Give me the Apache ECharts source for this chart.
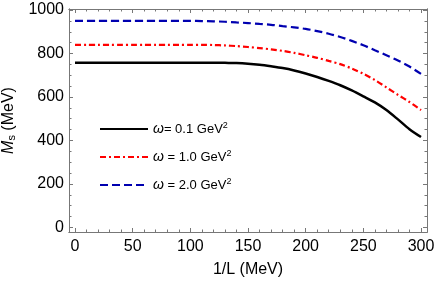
<!DOCTYPE html>
<html>
<head>
<meta charset="utf-8">
<script src="https://cdn.jsdelivr.net/npm/echarts@6/dist/echarts.min.js"></script>
<style>html,body{margin:0;padding:0;background:#fff}#c{width:436px;height:282px}</style>
</head>
<body>
<div id="c"></div>
<script>
var xValues = [0,10,20,30,40,50,60,70,80,90,100,110,120,130,140,150,160,170,180,190,200,210,220,230,240,250,260,270,280,290,300];
var blackW01 = [758,758,758,758,758,758,758,758,758,758,758,758,758,757,756,753,748,741,733,722,708,692,674,654,630,603,575,540,497,452,416];
var redW10 = [840,840,840,840,840,840,840,840,840,840,840,840,839,837,834,830,825,819,812,803,792,780,766,751,731,707,678,644,610,577,540];
var blueW20 = [950,950,950,950,950,950,950,950,950,950,950,949,948,946,943,940,936,932,926,920,913,903,891,876,858,838,815,792,768,740,706];
var seriesNames = ['ω= 0.1 GeV2', 'ω = 1.0 GeV2', 'ω = 2.0 GeV2'];
var xMajorTicks = [0, 50, 100, 150, 200, 250, 300];
var xMinorTicks = [10,20,30,40,60,70,80,90,110,120,130,140,160,170,180,190,210,220,230,240,260,270,280,290];
var yMajorTicks = [0, 200, 400, 600, 800, 1000];
var yMinorTicks = [50,100,150,250,300,350,450,500,550,650,700,750,850,900,950];

function pairs(ys){ return xValues.map(function(x,i){ return [x, ys[i]]; }); }

var FONT = '"Liberation Sans", Arial, sans-serif';
var frameColor = '#777';

function xAxisDef(pos, ticks, len, labels, extra){
  var a = {
    type: 'value', position: pos, min: -5.2, max: 305.2,
    axisLine: {show: true, onZero: false, lineStyle: {color: frameColor, width: 1}},
    axisTick: {show: true, inside: true, length: len, customValues: ticks, lineStyle: {color: frameColor}},
    axisLabel: labels ? {show: true, customValues: ticks, fontSize: 16, color: '#000', fontFamily: FONT, margin: 7,
      formatter: function(v){ return String(v); }} : {show: false},
    splitLine: {show: false}
  };
  return Object.assign(a, extra || {});
}
function yAxisDef(pos, ticks, len, labels, extra){
  var a = {
    type: 'value', position: pos, min: -20.7, max: 1004.6,
    axisLine: {show: true, onZero: false, lineStyle: {color: frameColor, width: 1}},
    axisTick: {show: true, inside: true, length: len, customValues: ticks, lineStyle: {color: frameColor}},
    axisLabel: labels ? {show: true, customValues: ticks, fontSize: 16, color: '#000', fontFamily: FONT, margin: 5,
      formatter: function(v){ return String(v); }} : {show: false},
    splitLine: {show: false}
  };
  return Object.assign(a, extra || {});
}

var chart = echarts.init(document.getElementById('c'), null, {renderer: 'canvas'});
chart.setOption({
  animation: false,
  backgroundColor: '#fff',
  grid: {left: 69, right: 9, top: 9, bottom: 50, containLabel: false, outerBoundsMode: 'none'},
  xAxis: [
    xAxisDef('bottom', xMajorTicks, 4, true, {
      name: '1/L (MeV)', nameLocation: 'middle', nameGap: 30,
      nameTextStyle: {fontSize: 16, color: '#000', fontFamily: FONT}
    }),
    xAxisDef('bottom', xMinorTicks, 2.5, false),
    xAxisDef('top', xMajorTicks, 4, false),
    xAxisDef('top', xMinorTicks, 2.5, false)
  ],
  yAxis: [
    yAxisDef('left', yMajorTicks, 4, true, {
      name: '{i|M}{sub|s} (MeV)', nameLocation: 'middle', nameGap: 43,
      nameTextStyle: {fontSize: 16, color: '#000', fontFamily: FONT,
        rich: {
          i: {fontSize: 16, fontStyle: 'italic', color: '#000', fontFamily: FONT},
          sub: {fontSize: 11, color: '#000', fontFamily: FONT, padding: [6, 0, 0, 0]}
        }}
    }),
    yAxisDef('left', yMinorTicks, 2.5, false),
    yAxisDef('right', yMajorTicks, 4, false),
    yAxisDef('right', yMinorTicks, 2.5, false)
  ],
  legend: {
    show: true, orient: 'vertical', left: 94, top: 116,
    itemWidth: 48, itemHeight: 14, itemGap: 13,
    data: seriesNames,
    itemStyle: {color: 'rgba(0,0,0,0)', borderWidth: 0, opacity: 0},
    formatter: function(n){
      var m = n.match(/^ω( ?= [0-9.]+ GeV)2$/);
      return '{i|ω}' + m[1] + '{sup|2}';
    },
    textStyle: {fontSize: 13, color: '#000', fontFamily: FONT,
      rich: {
        i: {fontSize: 14, fontStyle: 'italic', color: '#000', fontFamily: FONT},
        sup: {fontSize: 9, color: '#000', fontFamily: FONT, padding: [0, 0, 7, 0]}
      }}
  },
  series: [
    {name: seriesNames[0], type: 'line', smooth: 0.3, symbol: 'none', xAxisIndex: 0, yAxisIndex: 0,
     data: pairs(blackW01), lineStyle: {color: '#000', width: 2.5, type: 'solid'}, itemStyle: {color: '#000'}},
    {name: seriesNames[1], type: 'line', smooth: 0.3, symbol: 'none', xAxisIndex: 0, yAxisIndex: 0,
     data: pairs(redW10), lineStyle: {color: '#ff0000', width: 2.2, type: [6, 3, 2, 3]}, itemStyle: {color: '#ff0000'}},
    {name: seriesNames[2], type: 'line', smooth: 0.3, symbol: 'none', xAxisIndex: 0, yAxisIndex: 0,
     data: pairs(blueW20), lineStyle: {color: '#0000b0', width: 2.2, type: [8, 4]}, itemStyle: {color: '#0000b0'}}
  ]
});
</script>
</body>
</html>
